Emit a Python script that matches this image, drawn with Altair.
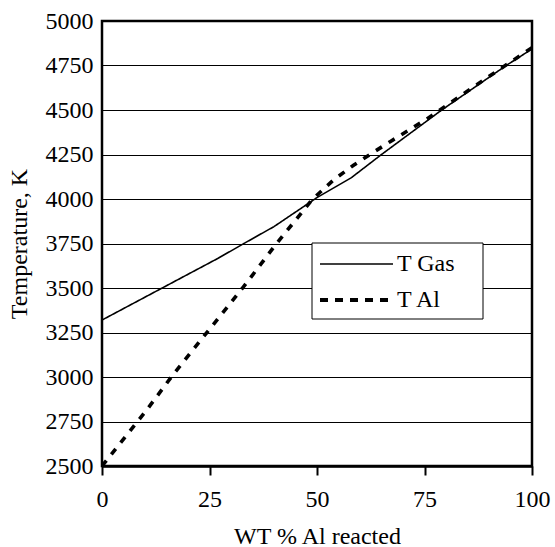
import altair as alt
import pandas as pd

# T Gas series (WT % Al reacted, Temperature K)
gas_x = [0, 14, 27, 33, 40, 50, 58, 65, 79, 94, 100]
gas_y = [3320, 3500, 3667, 3750, 3845, 4008, 4120, 4250, 4500, 4750, 4843]

# T Al series
al_x = [0, 10.4, 16.6, 22.8, 32.7, 40.6, 49, 54, 58.5, 62.5, 67, 75.5, 84, 92, 100]
al_y = [2500, 2815, 3015, 3202, 3500, 3750, 4000, 4110, 4190, 4253, 4322, 4449, 4590, 4721, 4850]

series_names = ["T Gas", "T Al"]
x_ticks = [0, 25, 50, 75, 100]
y_ticks = [2500, 2750, 3000, 3250, 3500, 3750, 4000, 4250, 4500, 4750, 5000]

rows = []
for i, (x, y) in enumerate(zip(gas_x, gas_y)):
    rows.append({"x": x, "y": y, "series": "T Gas", "order": i})
for i, (x, y) in enumerate(zip(al_x, al_y)):
    rows.append({"x": x, "y": y, "series": "T Al", "order": i})
df = pd.DataFrame(rows)

FONT = "Liberation Serif"
FS = 24

lines = alt.Chart(df).mark_line(clip=True).encode(
    x=alt.X("x:Q", scale=alt.Scale(domain=[0, 100], nice=False),
            axis=alt.Axis(values=x_ticks, title="WT % Al reacted", grid=False,
                          labelFlush=False,
                          tickSize=9, tickWidth=2, tickColor="black",
                          domainColor="black", domainWidth=2.5,
                          labelPadding=12, titlePadding=13)),
    y=alt.Y("y:Q", scale=alt.Scale(domain=[2500, 5000], nice=False, zero=False),
            axis=alt.Axis(values=y_ticks, title="Temperature, K", grid=True, format="d",
                          gridColor="black", gridWidth=1, gridOpacity=1,
                          ticks=False, domain=False, labelPadding=9,
                          labelFlush=False, titlePadding=14)),
    order="order:Q",
    color=alt.Color("series:N", scale=alt.Scale(domain=series_names, range=["black", "black"]),
                    legend=None),
    strokeDash=alt.StrokeDash("series:N",
                              scale=alt.Scale(domain=series_names, range=[[1, 0], [7, 8]]),
                              legend=None),
    strokeWidth=alt.StrokeWidth("series:N",
                                scale=alt.Scale(domain=series_names, range=[1.6, 3.6]),
                                legend=None),
)

# legend (drawn manually inside the plot)
box = alt.Chart(pd.DataFrame({"k": [0]})).mark_rect(
    fill="white", stroke="black", strokeWidth=1
).encode(x=alt.value(210), x2=alt.value(381), y=alt.value(222), y2=alt.value(298))

sym_gas = alt.Chart(pd.DataFrame({"k": [0]})).mark_rule(
    color="black", strokeWidth=1.6
).encode(x=alt.value(218), x2=alt.value(291), y=alt.value(243))

sym_al = alt.Chart(pd.DataFrame({"k": [0]})).mark_rule(
    color="black", strokeWidth=3.8, strokeDash=[8, 7]
).encode(x=alt.value(218), x2=alt.value(291), y=alt.value(279))

lab_gas = alt.Chart(pd.DataFrame({"label": [series_names[0]]})).mark_text(
    font=FONT, fontSize=FS, color="black", align="left", baseline="middle"
).encode(text="label:N", x=alt.value(295), y=alt.value(243))

lab_al = alt.Chart(pd.DataFrame({"label": [series_names[1]]})).mark_text(
    font=FONT, fontSize=FS, color="black", align="left", baseline="middle"
).encode(text="label:N", x=alt.value(295), y=alt.value(279))

chart = alt.layer(lines, box, sym_gas, sym_al, lab_gas, lab_al).properties(
    width=430, height=445,
    background="white",
    autosize=alt.AutoSizeParams(type="none"),
    padding={"left": 102, "top": 21, "right": 23, "bottom": 81},
).configure_view(
    stroke="black", strokeWidth=2.5
).configure_axis(
    labelFont=FONT, labelFontSize=FS, labelColor="black",
    titleFont=FONT, titleFontSize=FS, titleColor="black", titleFontWeight="normal",
)

chart.save("out.html", embed_options={"renderer": "svg", "actions": False})
